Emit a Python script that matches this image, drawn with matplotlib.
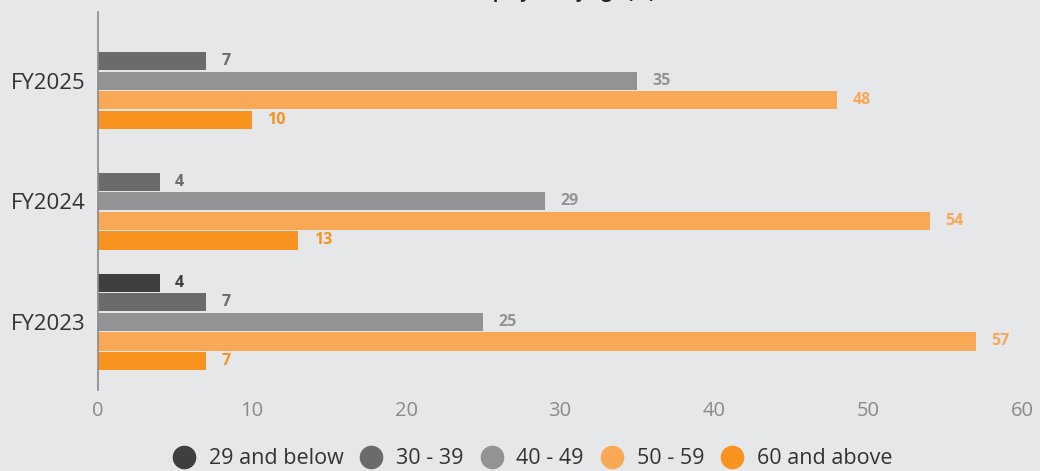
import matplotlib.pyplot as plt
import numpy as np
from matplotlib.lines import Line2D

plt.rcParams["font.family"] = ["Open Sans", "DejaVu Sans"]

years = ["FY2023", "FY2024", "FY2025"]
groups = ["29 and below", "30 - 39", "40 - 49", "50 - 59", "60 and above"]
# values per age group, ordered as years (None = no bar)
age_29_below = [4, None, None]
age_30_39 = [7, 4, 7]
age_40_49 = [25, 29, 35]
age_50_59 = [57, 54, 48]
age_60_above = [7, 13, 10]
series = [age_29_below, age_30_39, age_40_49, age_50_59, age_60_above]

colors = ["#3f3f41", "#6b6b6e", "#939396", "#f9a856", "#f7931e"]
label_colors = ["#3f3f41", "#6b6b6e", "#939396", "#f9a856", "#f7931e"]
bg = "#e6e7e9"

fig = plt.figure(figsize=(10.4, 4.71), dpi=100, facecolor=bg)
ax = fig.add_axes([98 / 1040, 1 - 390 / 471, 924 / 1040, 378 / 471], facecolor=bg)

step = 0.1625
height = 0.15
y = np.arange(len(years))
for i, (vals, c, lc) in enumerate(zip(series, colors, label_colors)):
    off = (2 - i) * step
    for yi, v in zip(y, vals):
        if v is None:
            continue
        ax.barh(yi + off, v, height=height, color=c)
        ax.text(v + 1.0, yi + off, str(v), va="center", ha="left",
                fontsize=11.5, fontweight="bold", color=lc)

ax.set_xlim(0, 60)
ax.set_ylim(-0.565, 2.57)
ax.set_yticks(y)
ax.set_yticklabels(years, fontsize=16, color="#333333")
ax.set_xticks(range(0, 61, 10))
ax.tick_params(axis="x", length=0, labelsize=14.5, labelcolor="#8a8a8c", pad=8)
ax.tick_params(axis="y", length=0, pad=9)
for s in ["top", "right", "bottom"]:
    ax.spines[s].set_visible(False)
ax.spines["left"].set_color("#8a8a8c")
ax.spines["left"].set_linewidth(1.2)

# title is mostly cropped off in the original
fig.text(655 / 1040, 1.0 + 2 / 471, "Employees by age (%)", ha="right",
         va="baseline", fontsize=13, fontweight="bold", color="#222222")

handles = [Line2D([], [], marker="o", linestyle="", markersize=16,
                  markerfacecolor=c, markeredgecolor=c) for c in colors]
fig.legend(handles, groups, loc="center", bbox_to_anchor=(0.507, 1 - 459 / 471),
           ncol=5, frameon=False, fontsize=15.5, handletextpad=0.15,
           columnspacing=0.3, labelcolor="#333333")

fig.savefig("out.png", dpi=100, facecolor=bg)
